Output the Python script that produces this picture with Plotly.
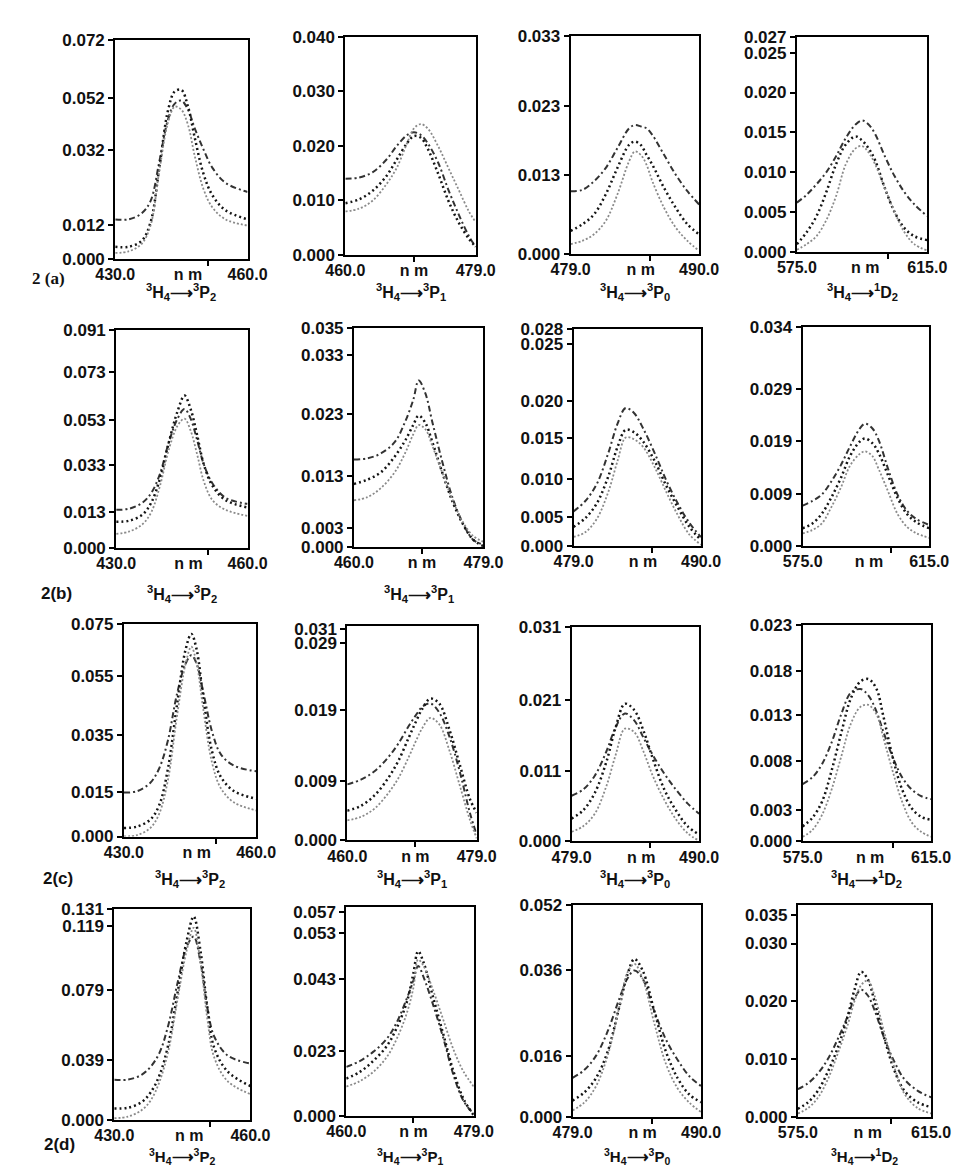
import plotly.graph_objects as go

W, H = 969, 1173

# ---------------- data ----------------
col_ranges = [[430, 460], [460, 479], [479, 490], [575, 615]]
col_lo_text = ["430.0", "460.0", "479.0", "575.0"]
col_hi_text = ["460.0", "479.0", "490.0", "615.0"]
col_nm_val = [446.5, 470.0, 485.0, 596.0]
col_minor_tick = [451.0, 470.0, 485.8, 603.0]
transition_text = [
    "<sup>3</sup>H<sub>4</sub>\u27f6<sup>3</sup>P<sub>2</sub>",
    "<sup>3</sup>H<sub>4</sub>\u27f6<sup>3</sup>P<sub>1</sub>",
    "<sup>3</sup>H<sub>4</sub>\u27f6<sup>3</sup>P<sub>0</sub>",
    "<sup>3</sup>H<sub>4</sub>\u27f6<sup>1</sup>D<sub>2</sub>",
]
row_labels = ["2 (a)", "2(b)", "2(c)", "2(d)"]
row_has_transition = [[1, 1, 1, 1], [1, 1, 0, 0], [1, 1, 1, 1], [1, 1, 1, 1]]

# --- row (a) ---
x_a1 = [430, 433, 436, 438, 440, 442, 443.5, 445, 446.5, 448, 450, 452, 455, 460]
a1_s1 = [0.013, 0.013, 0.015, 0.019, 0.032, 0.046, 0.051, 0.052, 0.049, 0.043, 0.036, 0.030, 0.025, 0.022]
a1_s2 = [0.004, 0.004, 0.006, 0.012, 0.030, 0.049, 0.055, 0.0555, 0.050, 0.040, 0.028, 0.021, 0.016, 0.013]
a1_s3 = [0.002, 0.0025, 0.005, 0.011, 0.029, 0.045, 0.050, 0.049, 0.044, 0.034, 0.023, 0.017, 0.013, 0.011]
a1_top = 0.072
a1_tv = [0, 0.0113, 0.0357, 0.0529, 0.072]
a1_tt = ["0.000", "0.012", "0.032", "0.052", "0.072"]

x_a2 = [460, 462, 464, 466, 467.5, 469, 470, 471, 472, 473.5, 475, 476.5, 478, 479]
a2_s1 = [0.014, 0.0142, 0.0152, 0.0175, 0.020, 0.022, 0.0225, 0.022, 0.0205, 0.017, 0.012, 0.0075, 0.0035, 0.0015]
a2_s2 = [0.0095, 0.0102, 0.0118, 0.0145, 0.0175, 0.0205, 0.0218, 0.0215, 0.0195, 0.015, 0.010, 0.006, 0.003, 0.0015]
a2_s3 = [0.008, 0.0085, 0.010, 0.013, 0.016, 0.0205, 0.0232, 0.024, 0.0232, 0.020, 0.016, 0.012, 0.008, 0.006]
a2_top = 0.040
a2_tv = [0, 0.010, 0.020, 0.030, 0.040]
a2_tt = ["0.000", "0.010", "0.020", "0.030", "0.040"]

x_a3 = [479, 480, 481, 482, 483, 484, 484.5, 485, 485.5, 486, 487, 488, 489, 490]
a3_s1 = [0.0095, 0.0097, 0.011, 0.013, 0.016, 0.019, 0.0195, 0.0193, 0.019, 0.018, 0.015, 0.012, 0.0095, 0.0075]
a3_s2 = [0.0035, 0.0045, 0.006, 0.009, 0.013, 0.0165, 0.017, 0.0165, 0.015, 0.0135, 0.010, 0.007, 0.0045, 0.003]
a3_s3 = [0.0015, 0.002, 0.003, 0.005, 0.009, 0.014, 0.0155, 0.015, 0.0135, 0.011, 0.007, 0.004, 0.002, 0.0005]
a3_top = 0.033
a3_tv = [0, 0.0119, 0.0224, 0.033]
a3_tt = ["0.000", "0.013", "0.023", "0.033"]

x_a4 = [575, 578, 581, 584, 587, 590, 593, 595, 597, 599, 602, 605, 608, 611, 615]
a4_s1 = [0.0062, 0.0072, 0.0085, 0.010, 0.012, 0.0143, 0.016, 0.0165, 0.016, 0.0148, 0.012, 0.0095, 0.0075, 0.006, 0.0045]
a4_s2 = [0.001, 0.0025, 0.0045, 0.0075, 0.011, 0.0135, 0.0145, 0.014, 0.013, 0.0115, 0.008, 0.005, 0.003, 0.002, 0.0015]
a4_s3 = [0.0003, 0.001, 0.002, 0.004, 0.007, 0.011, 0.013, 0.0133, 0.0125, 0.011, 0.008, 0.005, 0.0025, 0.001, 0.0002]
a4_top = 0.027
a4_tv = [0, 0.005, 0.010, 0.015, 0.020, 0.025, 0.027]
a4_tt = ["0.000", "0.005", "0.010", "0.015", "0.020", "0.025", "0.027"]

# --- row (b) ---
x_b1 = [430, 433, 436, 438, 440, 442, 444, 445.6, 447, 448.5, 450, 452, 455, 460]
b1_s1 = [0.016, 0.0165, 0.019, 0.023, 0.031, 0.044, 0.054, 0.058, 0.054, 0.045, 0.035, 0.027, 0.021, 0.0185]
b1_s2 = [0.011, 0.0115, 0.014, 0.019, 0.029, 0.044, 0.057, 0.0636, 0.058, 0.047, 0.035, 0.026, 0.020, 0.017]
b1_s3 = [0.006, 0.007, 0.010, 0.015, 0.026, 0.041, 0.051, 0.054, 0.049, 0.039, 0.028, 0.020, 0.016, 0.0135]
b1_top = 0.091
b1_tv = [0, 0.0150, 0.0346, 0.0533, 0.0733, 0.091]
b1_tt = ["0.000", "0.013", "0.033", "0.053", "0.073", "0.091"]

x_b2 = [460, 462, 464, 466, 467.5, 468.7, 469.5, 470.5, 471.5, 473, 474.5, 476, 477.5, 479]
b2_s1 = [0.014, 0.0142, 0.015, 0.0168, 0.020, 0.0235, 0.0266, 0.0245, 0.020, 0.0135, 0.0078, 0.0038, 0.0012, 0.0004]
b2_s2 = [0.0101, 0.0108, 0.012, 0.0145, 0.017, 0.0195, 0.021, 0.0198, 0.0168, 0.0118, 0.0072, 0.0037, 0.0012, 0.0002]
b2_s3 = [0.0075, 0.008, 0.0095, 0.012, 0.015, 0.018, 0.0195, 0.0188, 0.0162, 0.0118, 0.0075, 0.004, 0.0018, 0.0009]
b2_top = 0.035
b2_tv = [0, 0.00305, 0.01138, 0.0213, 0.0307, 0.035]
b2_tt = ["0.000", "0.003", "0.013", "0.023", "0.033", "0.035"]

x_b3 = [479, 480, 481, 482, 482.8, 483.5, 484.2, 485, 486, 487, 488, 489, 490]
b3_s1 = [0.0045, 0.0058, 0.008, 0.012, 0.0158, 0.0178, 0.0172, 0.0152, 0.012, 0.0085, 0.0055, 0.003, 0.0012]
b3_s2 = [0.0025, 0.0036, 0.0055, 0.009, 0.0128, 0.015, 0.0147, 0.0135, 0.011, 0.0078, 0.005, 0.0025, 0.0008]
b3_s3 = [0.0012, 0.0018, 0.0035, 0.007, 0.011, 0.014, 0.0138, 0.0128, 0.0102, 0.007, 0.004, 0.0015, 0.0002]
b3_top = 0.028
b3_tv = [0, 0.00378, 0.00862, 0.01389, 0.01873, 0.0261, 0.028]
b3_tt = ["0.000", "0.005", "0.010", "0.015", "0.020", "0.025", "0.028"]

x_b4 = [575, 578, 581, 584, 587, 590, 593, 594.7, 597, 599, 602, 605, 608, 611, 615]
b4_s1 = [0.0063, 0.007, 0.008, 0.010, 0.0125, 0.0155, 0.0182, 0.019, 0.0183, 0.0165, 0.012, 0.008, 0.0055, 0.0042, 0.0033]
b4_s2 = [0.0028, 0.0035, 0.005, 0.0075, 0.0105, 0.014, 0.0162, 0.0167, 0.016, 0.0145, 0.011, 0.0075, 0.005, 0.0037, 0.0028]
b4_s3 = [0.002, 0.0025, 0.0035, 0.006, 0.009, 0.0125, 0.0143, 0.0147, 0.014, 0.012, 0.0085, 0.005, 0.003, 0.002, 0.0013]
b4_top = 0.034
b4_tv = [0, 0.00813, 0.01625, 0.02435, 0.034]
b4_tt = ["0.000", "0.009", "0.019", "0.029", "0.034"]

# --- row (c) ---
x_c1 = [430, 433, 436, 438, 440, 442, 444, 445.3, 446.5, 448, 450, 452, 455, 460]
c1_s1 = [0.0155, 0.016, 0.019, 0.024, 0.034, 0.050, 0.061, 0.064, 0.061, 0.051, 0.037, 0.029, 0.025, 0.023]
c1_s2 = [0.003, 0.0035, 0.006, 0.011, 0.024, 0.046, 0.066, 0.0715, 0.066, 0.049, 0.030, 0.021, 0.016, 0.0133]
c1_s3 = [0.0, 0.0005, 0.003, 0.008, 0.020, 0.042, 0.061, 0.067, 0.061, 0.045, 0.026, 0.017, 0.012, 0.0092]
c1_top = 0.075
c1_tv = [0, 0.0156, 0.0358, 0.0566, 0.075]
c1_tt = ["0.000", "0.015", "0.035", "0.055", "0.075"]

x_c2 = [460, 462, 464, 466, 467.5, 469, 470, 471, 472.2, 473.5, 475, 476.5, 478, 479]
c2_s1 = [0.0081, 0.0088, 0.010, 0.012, 0.014, 0.0165, 0.018, 0.0193, 0.0198, 0.0185, 0.015, 0.010, 0.004, 0.0008]
c2_s2 = [0.0043, 0.005, 0.0065, 0.009, 0.0115, 0.0148, 0.017, 0.019, 0.0205, 0.0198, 0.016, 0.011, 0.006, 0.004]
c2_s3 = [0.0029, 0.0034, 0.0046, 0.0068, 0.009, 0.012, 0.0142, 0.0162, 0.0177, 0.0168, 0.013, 0.008, 0.003, 0.0003]
c2_top = 0.031
c2_tv = [0, 0.0086, 0.0188, 0.0285, 0.0306]
c2_tt = ["0.000", "0.009", "0.019", "0.029", "0.031"]

x_c3 = [479, 480, 481, 482, 482.8, 483.6, 484.4, 485.2, 486, 487, 488, 489, 490]
c3_s1 = [0.0066, 0.0075, 0.0095, 0.013, 0.0165, 0.0185, 0.0175, 0.015, 0.0125, 0.0098, 0.0075, 0.0055, 0.004]
c3_s2 = [0.0033, 0.0045, 0.007, 0.0115, 0.0165, 0.0199, 0.019, 0.016, 0.012, 0.0075, 0.0045, 0.0022, 0.001]
c3_s3 = [0.0014, 0.0022, 0.004, 0.008, 0.0125, 0.0163, 0.0158, 0.013, 0.0095, 0.006, 0.0032, 0.0012, 0.0001]
c3_top = 0.031
c3_tv = [0, 0.01017, 0.0205, 0.031]
c3_tt = ["0.000", "0.011", "0.021", "0.031"]

x_c4 = [575, 578, 581, 584, 587, 590, 593, 595.5, 598, 600, 603, 606, 609, 612, 615]
c4_s1 = [0.0061, 0.0068, 0.0082, 0.0105, 0.0135, 0.0158, 0.0162, 0.0155, 0.0138, 0.0118, 0.009, 0.0068, 0.0055, 0.0048, 0.0045]
c4_s2 = [0.0016, 0.0025, 0.0042, 0.0075, 0.0115, 0.0152, 0.017, 0.01725, 0.0162, 0.0135, 0.009, 0.0055, 0.0035, 0.0026, 0.0023]
c4_s3 = [0.0005, 0.0012, 0.0028, 0.0055, 0.009, 0.0125, 0.0143, 0.0145, 0.0135, 0.0112, 0.0075, 0.0042, 0.002, 0.001, 0.0005]
c4_top = 0.023
c4_tv = [0, 0.0033, 0.00853, 0.0134, 0.0181, 0.023]
c4_tt = ["0.000", "0.003", "0.008", "0.013", "0.018", "0.023"]

# --- row (d) ---
x_d1 = [430, 433, 436, 438, 440, 442, 444, 446, 447.5, 449, 450.5, 452, 455, 460]
d1_s1 = [0.025, 0.025, 0.028, 0.033, 0.042, 0.060, 0.086, 0.108, 0.114, 0.098, 0.070, 0.052, 0.040, 0.035]
d1_s2 = [0.007, 0.0075, 0.011, 0.017, 0.028, 0.048, 0.080, 0.112, 0.1265, 0.105, 0.070, 0.045, 0.030, 0.021]
d1_s3 = [0.001, 0.002, 0.006, 0.012, 0.024, 0.044, 0.076, 0.106, 0.1195, 0.098, 0.063, 0.039, 0.024, 0.016]
d1_top = 0.131
d1_tv = [0, 0.0375, 0.081, 0.1205, 0.131]
d1_tt = ["0.000", "0.039", "0.079", "0.119", "0.131"]

x_d2 = [460, 462, 464, 466, 467.5, 469, 470, 470.7, 471.5, 473, 474.5, 476, 477.5, 479]
d2_s1 = [0.0134, 0.015, 0.0175, 0.021, 0.0255, 0.032, 0.037, 0.041, 0.038, 0.030, 0.021, 0.011, 0.004, 0.0005]
d2_s2 = [0.0102, 0.012, 0.015, 0.019, 0.024, 0.031, 0.039, 0.045, 0.042, 0.032, 0.022, 0.012, 0.0045, 0.0002]
d2_s3 = [0.008, 0.0095, 0.012, 0.016, 0.021, 0.028, 0.035, 0.0427, 0.041, 0.034, 0.026, 0.018, 0.012, 0.008]
d2_top = 0.057
d2_tv = [0, 0.0178, 0.0374, 0.0499, 0.0557]
d2_tt = ["0.000", "0.023", "0.043", "0.053", "0.057"]

x_d3 = [479, 480, 481, 482, 483, 483.7, 484.3, 485, 486, 487, 488, 489, 490]
d3_s1 = [0.0096, 0.0115, 0.015, 0.021, 0.029, 0.034, 0.036, 0.034, 0.026, 0.019, 0.014, 0.010, 0.0076]
d3_s2 = [0.004, 0.006, 0.0095, 0.016, 0.027, 0.035, 0.0388, 0.036, 0.026, 0.016, 0.0095, 0.0055, 0.0036]
d3_s3 = [0.0016, 0.0035, 0.0075, 0.015, 0.027, 0.0355, 0.0376, 0.034, 0.023, 0.013, 0.007, 0.0035, 0.0012]
d3_top = 0.052
d3_tv = [0, 0.015, 0.036, 0.052]
d3_tt = ["0.000", "0.016", "0.036", "0.052"]

x_d4 = [575, 578, 581, 584, 587, 590, 592, 594, 596, 598, 601, 604, 607, 611, 615]
d4_s1 = [0.0048, 0.0058, 0.0075, 0.010, 0.0135, 0.0175, 0.0205, 0.022, 0.021, 0.0185, 0.0135, 0.0095, 0.0065, 0.0045, 0.0034]
d4_s2 = [0.0014, 0.0025, 0.0045, 0.0078, 0.012, 0.0175, 0.022, 0.0251, 0.0238, 0.020, 0.0135, 0.008, 0.0045, 0.0025, 0.0017]
d4_s3 = [0.0006, 0.0015, 0.0033, 0.0065, 0.011, 0.016, 0.020, 0.0228, 0.0236, 0.021, 0.0145, 0.0085, 0.004, 0.0015, 0.0006]
d4_top = 0.0366
d4_tv = [0, 0.010, 0.020, 0.030, 0.035]
d4_tt = ["0.000", "0.010", "0.020", "0.030", "0.035"]

panels = [
    [(x_a1, [a1_s1, a1_s2, a1_s3], a1_top, a1_tv, a1_tt),
     (x_a2, [a2_s1, a2_s2, a2_s3], a2_top, a2_tv, a2_tt),
     (x_a3, [a3_s1, a3_s2, a3_s3], a3_top, a3_tv, a3_tt),
     (x_a4, [a4_s1, a4_s2, a4_s3], a4_top, a4_tv, a4_tt)],
    [(x_b1, [b1_s1, b1_s2, b1_s3], b1_top, b1_tv, b1_tt),
     (x_b2, [b2_s1, b2_s2, b2_s3], b2_top, b2_tv, b2_tt),
     (x_b3, [b3_s1, b3_s2, b3_s3], b3_top, b3_tv, b3_tt),
     (x_b4, [b4_s1, b4_s2, b4_s3], b4_top, b4_tv, b4_tt)],
    [(x_c1, [c1_s1, c1_s2, c1_s3], c1_top, c1_tv, c1_tt),
     (x_c2, [c2_s1, c2_s2, c2_s3], c2_top, c2_tv, c2_tt),
     (x_c3, [c3_s1, c3_s2, c3_s3], c3_top, c3_tv, c3_tt),
     (x_c4, [c4_s1, c4_s2, c4_s3], c4_top, c4_tv, c4_tt)],
    [(x_d1, [d1_s1, d1_s2, d1_s3], d1_top, d1_tv, d1_tt),
     (x_d2, [d2_s1, d2_s2, d2_s3], d2_top, d2_tv, d2_tt),
     (x_d3, [d3_s1, d3_s2, d3_s3], d3_top, d3_tv, d3_tt),
     (x_d4, [d4_s1, d4_s2, d4_s3], d4_top, d4_tv, d4_tt)],
]

# ---------------- layout (pixel boxes: left, right, top, bottom) ----------------
boxes = [
    [(91, 229, 23, 246), (331, 467, 20, 242), (566, 700, 19, 241), (802, 938, 20, 239)],
    [(92, 229, 318, 540), (340, 475, 316, 539), (569, 702, 317, 538), (808, 940, 315, 538)],
    [(100, 238, 617, 833), (333, 468, 619, 837), (567, 700, 620, 838), (808, 942, 618, 838)],
    [(90, 232, 907, 1121), (332, 465, 905, 1117), (568, 702, 903, 1118), (803, 942, 903, 1118)],
]
transition_y = [280, 586, 876, 1158]
row_label_pos = [(21, 266), (30, 586), (31, 876), (33, 1146)]
transition_size = [16, 16, 16, 15]

line_styles = [
    dict(color="#333333", width=2.0, dash="6px,3px,2px,3px"),
    dict(color="#151515", width=2.5, dash="2px,3px"),
    dict(color="#8a8a8a", width=1.8, dash="2px,2px"),
]

FONT = "Liberation Sans, Arial, sans-serif"
ytick_font = dict(family=FONT, size=17, color="#111111", weight="bold")
xtick_font = dict(family=FONT, size=16, color="#111111", weight="bold")

fig = go.Figure()
layout = dict(
    width=W, height=H, margin=dict(l=0, r=0, t=0, b=0),
    paper_bgcolor="white", plot_bgcolor="white", showlegend=False,
)
annotations = []

for r in range(4):
    for c in range(4):
        idx = r * 4 + c + 1
        xs, series, top, tv, tt = panels[r][c]
        x0, x1, y0, y1 = boxes[r][c]
        xa = "x" if idx == 1 else f"x{idx}"
        ya = "y" if idx == 1 else f"y{idx}"
        for s, ys in enumerate(series):
            fig.add_trace(go.Scatter(
                x=xs, y=ys, mode="lines", line=line_styles[s],
                line_shape="spline", xaxis=xa, yaxis=ya,
                hoverinfo="skip", showlegend=False,
            ))
        lo, hi = col_ranges[c]
        layout[f"xaxis{idx}"] = dict(
            domain=[x0 / W, x1 / W], range=[lo, hi], anchor=ya,
            showline=True, mirror=True, linecolor="black", linewidth=2,
            showgrid=False, zeroline=False,
            tickmode="array", tickvals=[lo, col_nm_val[c], hi],
            ticktext=[col_lo_text[c], "n m", col_hi_text[c]],
            ticks="", tickfont=xtick_font,
            minor=dict(tickmode="array", tickvals=[col_minor_tick[c]], ticks="outside",
                       ticklen=5, tickwidth=1.8, tickcolor="black", showgrid=False),
        )
        layout[f"yaxis{idx}"] = dict(
            domain=[1 - y1 / H, 1 - y0 / H], range=[0, top], anchor=xa,
            showline=True, mirror=True, linecolor="black", linewidth=2,
            showgrid=False, zeroline=False,
            tickmode="array", tickvals=tv, ticktext=tt,
            ticks="outside", ticklen=5, tickwidth=1.8, tickcolor="black",
            tickfont=ytick_font,
        )
        if row_has_transition[r][c]:
            annotations.append(dict(
                x=(x0 + x1) / 2 / W, y=1 - transition_y[r] / H,
                xref="paper", yref="paper", showarrow=False,
                text=transition_text[c],
                font=dict(family=FONT, size=transition_size[r], color="#111111", weight="bold"),
                xanchor="center", yanchor="middle",
            ))
    lx, ly = row_label_pos[r]
    annotations.append(dict(
        x=lx / W, y=1 - ly / H, xref="paper", yref="paper", showarrow=False,
        text=row_labels[r],
        font=dict(family=("Liberation Serif, Times New Roman, serif" if r == 0 else FONT),
                  size=17, color="#111111", weight="bold"),
        xanchor="center", yanchor="middle",
    ))

layout["annotations"] = annotations
fig.update_layout(**layout)
fig.write_html("out.html")
